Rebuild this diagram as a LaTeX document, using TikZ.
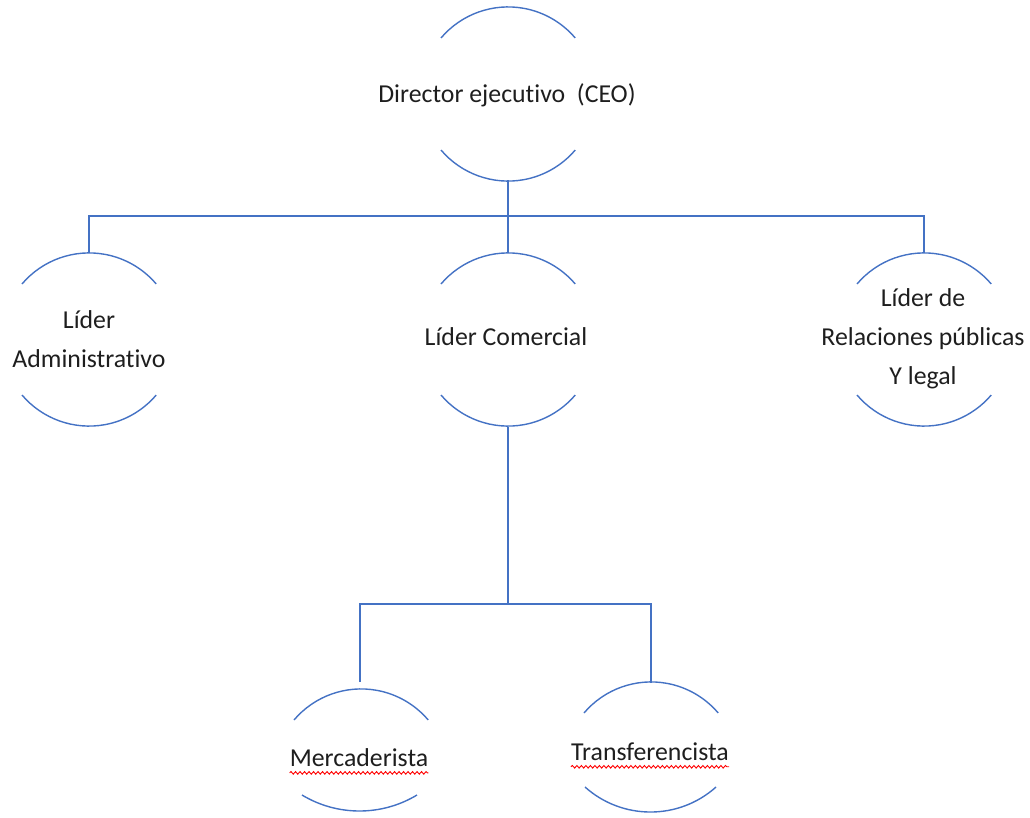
\documentclass[tikz,border=0pt]{standalone}
\usepackage{fontspec}
\setmainfont{Carlito}[Ligatures=NoCommon, Contextuals=NoAlternate, RawFeature={-dlig}]
\usetikzlibrary{decorations.pathmorphing}
\definecolor{oblue}{HTML}{4472C4}
\definecolor{txt}{HTML}{1E1E1E}
\begin{document}
\begin{tikzpicture}[x=1pt,y=1pt,
  link/.style={draw=oblue, line width=1.5pt},
  arcline/.style={draw=oblue, line width=1.4pt},
  lbl/.style={text=txt, font=\fontsize{25.8}{39}\selectfont, align=center, inner sep=0pt},
  squiggle/.style={draw=red, line width=0.9pt, decorate, decoration={snake, amplitude=1.3pt, segment length=4.5pt}}]
\useasboundingbox (0,0) rectangle (1030,-817);
% CEO
\draw[arcline] (441,-38) arc[start angle=139.7, end angle=40.3, radius=88];
\draw[arcline] (441,-150) arc[start angle=220.3, end angle=319.7, radius=88];
\node[lbl] (ceo) at (507,-95) {Director ejecut\kern0ptivo\ \ (CEO)};
\coordinate (ceoB) at (508,-180);
% Lider Administrativo
\draw[arcline] (22,-284) arc[start angle=139.7, end angle=40.3, radius=88];
\draw[arcline] (22,-395) arc[start angle=220.3, end angle=319.7, radius=88];
\node[lbl] (adm) at (89,-339) {Líder\\Administrat\kern0ptivo};
\coordinate (admT) at (89,-253);
% Lider Comercial
\draw[arcline] (441,-284) arc[start angle=139.7, end angle=40.3, radius=88];
\draw[arcline] (441,-395) arc[start angle=220.3, end angle=319.7, radius=88];
\node[lbl] (com) at (506,-337) {Líder Comercial};
\coordinate (comT) at (508,-253);
\coordinate (comB) at (508,-427);
% Lider de Relaciones
\draw[arcline] (857,-284) arc[start angle=139.7, end angle=40.3, radius=88];
\draw[arcline] (857,-395) arc[start angle=220.3, end angle=319.7, radius=88];
\node[lbl] (rel) at (923,-339) {Líder de\\Relaciones públicas\\Y legal};
\coordinate (relT) at (924,-253);
% Mercaderista
\draw[arcline] (294,-720) arc[start angle=139.7, end angle=40.3, radius=88];
\draw[arcline] (302,-795) arc[start angle=238.9, end angle=301.1, radius=111.3];
\node[lbl] (mer) at (359,-758) {Mercaderista};
\coordinate (merT) at (360,-682);
\draw[squiggle] ([yshift=-6pt]mer.base west) -- ([yshift=-6pt]mer.base east);
% Transferencista
\draw[arcline] (584,-713) arc[start angle=139.7, end angle=40.3, radius=88];
\draw[arcline] (585,-787) arc[start angle=228.2, end angle=311.8, radius=98.3];
\node[lbl] (tra) at (650,-752) {Transferencista};
\coordinate (traT) at (651,-683);
\draw[squiggle] ([yshift=-6pt]tra.base west) -- ([yshift=-6pt]tra.base east);
% connectors
\coordinate (j1) at (508,-216);
\coordinate (j2) at (508,-604);
\draw[link] (ceoB) -- (comT);
\draw[link] (admT) |- (j1) -| (relT);
\draw[link] (comB) -- (j2);
\draw[link] (merT) |- (j2) -| (traT);
\end{tikzpicture}
\end{document}
